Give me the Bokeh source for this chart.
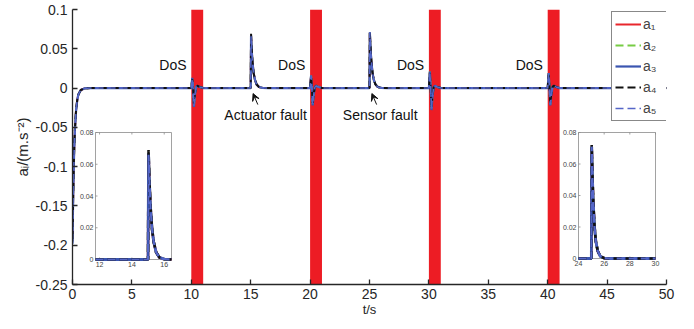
import numpy as np
from bokeh.plotting import figure
from bokeh.models import (Legend, LegendItem, FixedTicker, Arrow, VeeHead, Label,
                          Range1d, BoxAnnotation)
from bokeh.core.properties import value
from bokeh.embed import file_html
from bokeh.resources import INLINE

FONT = "Liberation Sans"

# ---------------- data ----------------
t_main = [
    0.0, 0.05, 0.1, 0.15, 0.2, 0.3, 0.4, 0.5, 0.7, 1.0, 1.5,
    10.0, 10.08, 10.15, 10.22, 10.3, 10.4, 10.5, 10.7, 11.0,
    15.0, 15.03, 15.08, 15.15, 15.25, 15.35, 15.5, 15.7, 16.0, 16.5,
    20.0, 20.08, 20.15, 20.22, 20.3, 20.4, 20.5, 20.7, 21.0,
    25.0, 25.03, 25.08, 25.15, 25.25, 25.35, 25.5, 25.7, 26.0, 26.5,
    30.0, 30.08, 30.15, 30.22, 30.3, 30.4, 30.5, 30.7, 31.0,
    40.0, 40.08, 40.15, 40.22, 40.3, 40.4, 40.5, 40.7, 41.0,
    50.0]

a1 = [
    -0.195, -0.142, -0.103, -0.074, -0.053, -0.028, -0.015, -0.008, -0.0025, -0.0005, 0.0,
    0.0, 0.012, 0.0, -0.022, -0.009, 0.001, 0.003, 0.0015, 0.0,
    0.0, 0.066, 0.050, 0.033, 0.019, 0.011, 0.0045, 0.0013, 0.0002, 0.0,
    0.0, 0.015, 0.0, -0.020, -0.009, 0.001, 0.003, 0.0015, 0.0,
    0.0, 0.070, 0.053, 0.035, 0.020, 0.011, 0.0047, 0.0014, 0.0002, 0.0,
    0.0, 0.020, 0.0, -0.026, -0.011, 0.001, 0.003, 0.0015, 0.0,
    0.0, 0.018, 0.0, -0.020, -0.009, 0.001, 0.003, 0.0015, 0.0,
    0.0]
a2 = [
    -0.195, -0.143, -0.104, -0.075, -0.053, -0.029, -0.015, -0.008, -0.0025, -0.0005, 0.0,
    0.0, 0.012, 0.0, -0.023, -0.009, 0.001, 0.003, 0.0015, 0.0,
    0.0, 0.066, 0.050, 0.033, 0.019, 0.011, 0.0045, 0.0013, 0.0002, 0.0,
    0.0, 0.016, 0.0, -0.021, -0.009, 0.001, 0.003, 0.0015, 0.0,
    0.0, 0.070, 0.053, 0.035, 0.020, 0.011, 0.0047, 0.0014, 0.0002, 0.0,
    0.0, 0.021, 0.0, -0.027, -0.011, 0.001, 0.003, 0.0015, 0.0,
    0.0, 0.019, 0.0, -0.021, -0.009, 0.001, 0.003, 0.0015, 0.0,
    0.0]
a3 = [
    -0.198, -0.144, -0.104, -0.075, -0.054, -0.029, -0.015, -0.008, -0.0025, -0.0005, 0.0,
    0.0, 0.013, 0.0, -0.024, -0.009, 0.001, 0.003, 0.0015, 0.0,
    0.0, 0.067, 0.050, 0.033, 0.019, 0.011, 0.0045, 0.0013, 0.0002, 0.0,
    0.0, 0.016, 0.0, -0.022, -0.009, 0.001, 0.003, 0.0015, 0.0,
    0.0, 0.071, 0.053, 0.035, 0.020, 0.011, 0.0047, 0.0014, 0.0002, 0.0,
    0.0, 0.021, 0.0, -0.028, -0.011, 0.001, 0.003, 0.0015, 0.0,
    0.0, 0.019, 0.0, -0.022, -0.009, 0.001, 0.003, 0.0015, 0.0,
    0.0]
a4 = [
    -0.192, -0.141, -0.102, -0.073, -0.053, -0.028, -0.015, -0.008, -0.0025, -0.0005, 0.0,
    0.0, 0.011, 0.0, -0.020, -0.008, 0.001, 0.003, 0.0015, 0.0,
    0.0, 0.069, 0.051, 0.034, 0.019, 0.011, 0.0046, 0.0013, 0.0002, 0.0,
    0.0, 0.015, 0.0, -0.019, -0.008, 0.001, 0.003, 0.0015, 0.0,
    0.0, 0.072, 0.054, 0.036, 0.020, 0.011, 0.0048, 0.0014, 0.0002, 0.0,
    0.0, 0.019, 0.0, -0.025, -0.010, 0.001, 0.003, 0.0015, 0.0,
    0.0, 0.017, 0.0, -0.019, -0.008, 0.001, 0.003, 0.0015, 0.0,
    0.0]
a5 = [
    -0.196, -0.143, -0.104, -0.075, -0.054, -0.029, -0.015, -0.008, -0.0025, -0.0005, 0.0,
    0.0, 0.012, 0.0, -0.023, -0.009, 0.001, 0.003, 0.0015, 0.0,
    0.0, 0.066, 0.050, 0.033, 0.019, 0.011, 0.0045, 0.0013, 0.0002, 0.0,
    0.0, 0.016, 0.0, -0.021, -0.009, 0.001, 0.003, 0.0015, 0.0,
    0.0, 0.071, 0.053, 0.035, 0.020, 0.011, 0.0047, 0.0014, 0.0002, 0.0,
    0.0, 0.021, 0.0, -0.027, -0.011, 0.001, 0.003, 0.0015, 0.0,
    0.0, 0.019, 0.0, -0.021, -0.009, 0.001, 0.003, 0.0015, 0.0,
    0.0]

series_values = [a1, a2, a3, a4, a5]
series_names = ["a\u2081", "a\u2082", "a\u2083", "a\u2084", "a\u2085"]
series_colors = ["#E8262C", "#77CC44", "#3A55B0", "#111111", "#5566C8"]
series_dash = ["solid", "8 4", "solid", "8 4", "8 4"]
series_width = [2, 2, 2.2, 2, 1.6]

dos_start = [10, 20, 30, 40]
dos_end = [11, 21, 31, 41]
dos_label = "DoS"

fault_times = [15, 25]
fault_labels = ["Actuator fault", "Sensor fault"]
fault_label_x = [16.25, 25.9]

x_ticks = [0, 5, 10, 15, 20, 25, 30, 35, 40, 45, 50]
y_ticks = [-0.25, -0.2, -0.15, -0.1, -0.05, 0, 0.05, 0.1]
y_tick_labels = ["-0.25", "-0.2", "-0.15", "-0.1", "-0.05", "0", "0.05", "0.1"]

inset_x_ranges = [(11.75, 16.45), (24, 30)]
inset_y_range = (0, 0.08)
inset_x_ticks = [[12, 14, 16], [24, 26, 28, 30]]
inset_y_ticks = [0, 0.02, 0.04, 0.06, 0.08]
inset_y_labels = ["0", "0.02", "0.04", "0.06", "0.08"]

# ---------------- layout constants (pixels) ----------------
FW, FH = 594, 275
# inset frames: left, top, width, height (pixels from the main frame's top-left corner)
INSET_BOX = [(23, 123, 76, 127), (506, 123, 77, 126)]

# ---------------- main figure ----------------
p = figure(frame_width=FW, frame_height=FH, x_range=Range1d(0, 50), y_range=Range1d(-0.25, 0.1),
           output_backend="svg", toolbar_location=None,
           min_border_left=72, min_border_right=12, min_border_top=9, min_border_bottom=35)
p.outline_line_color = None
p.grid.visible = False
p.background_fill_color = "white"

for ax in (p.xaxis[0], p.yaxis[0]):
    ax.axis_line_color = "#262626"
    ax.axis_line_width = 1.3
    ax.major_tick_line_color = "#262626"
    ax.major_tick_line_width = 1.3
    ax.major_tick_in = 5
    ax.major_tick_out = 0
    ax.minor_tick_line_color = None
    ax.major_label_text_font = FONT
    ax.major_label_text_color = "#262626"
    ax.axis_label_text_font = FONT
    ax.axis_label_text_font_style = "normal"
    ax.axis_label_text_color = "#262626"

p.xaxis.ticker = FixedTicker(ticks=x_ticks)
p.xaxis.major_label_text_font_size = "14px"
p.xaxis.major_label_standoff = 4
p.xaxis.axis_label = "t/s"
p.xaxis.axis_label_text_font_size = "13px"
p.xaxis.axis_label_standoff = 0

p.yaxis.ticker = FixedTicker(ticks=y_ticks)
p.yaxis.major_label_overrides = {v: s for v, s in zip(y_ticks, y_tick_labels)}
p.yaxis.major_label_text_font_size = "14px"
p.yaxis.major_label_standoff = 5
p.yaxis.axis_label = "a\u1d62/(m.s\u207b\u00b2)"
p.yaxis.axis_label_text_font_size = "15px"
p.yaxis.axis_label_standoff = 2

for s, e in zip(dos_start, dos_end):
    p.add_layout(BoxAnnotation(left=s, right=e, fill_color="#ED1C24", fill_alpha=1,
                               line_color=None, level="underlay"))

renderers = []
for vals, col, dash, w in zip(series_values, series_colors, series_dash, series_width):
    r = p.line(t_main, vals, line_color=col, line_width=w, line_dash=dash)
    renderers.append(r)

for s in dos_start:
    p.add_layout(Label(x=s - 0.4, y=0.029, text=dos_label, text_align="right",
                       text_baseline="middle", text_font=FONT, text_font_size="14px",
                       text_color="#111111"))

for ft, lab, lx in zip(fault_times, fault_labels, fault_label_x):
    p.add_layout(Label(x=lx, y=-0.034, text=lab, text_align="center",
                       text_baseline="middle", text_font=FONT, text_font_size="14px",
                       text_color="#111111"))
    p.add_layout(Arrow(x_start=ft + 0.6, y_start=-0.021, x_end=ft + 0.2, y_end=-0.007,
                       line_color="#111111", line_width=1,
                       end=VeeHead(size=7, fill_color="#111111", line_color="#111111")))


# ---------------- insets (drawn through extra ranges) ----------------
def clip_series(t, v, x0, x1):
    t = np.asarray(t, dtype=float)
    v = np.asarray(v, dtype=float)
    m = (t > x0) & (t < x1)
    tt = np.concatenate([[x0], t[m], [x1]])
    vv = np.concatenate([[np.interp(x0, t, v)], v[m], [np.interp(x1, t, v)]])
    return tt, vv


y0, y1 = inset_y_range
for k, ((x0, x1), (L, T, W, H), xt) in enumerate(zip(inset_x_ranges, INSET_BOX, inset_x_ticks)):
    sx = (x1 - x0) / W
    sy = (y1 - y0) / H
    xn, yn = f"ix{k}", f"iy{k}"
    p.extra_x_ranges[xn] = Range1d(x0 - L * sx, x1 + (FW - L - W) * sx)
    p.extra_y_ranges[yn] = Range1d(y0 - (FH - T - H) * sy, y1 + T * sy)
    kw = dict(x_range_name=xn, y_range_name=yn)

    p.quad(left=[x0], right=[x1], bottom=[y0], top=[y1], fill_color="white",
           line_color="#8a8a8a", line_width=0.8, **kw)
    # tick marks (inward)
    p.segment(x0=xt, y0=[y0] * len(xt), x1=xt, y1=[y0 + 2 * sy] * len(xt),
              line_color="#8a8a8a", line_width=0.8, **kw)
    p.segment(x0=xt, y0=[y1] * len(xt), x1=xt, y1=[y1 - 2 * sy] * len(xt),
              line_color="#8a8a8a", line_width=0.8, **kw)
    p.segment(x0=[x0] * len(inset_y_ticks), y0=inset_y_ticks,
              x1=[x0 + 2 * sx] * len(inset_y_ticks), y1=inset_y_ticks,
              line_color="#8a8a8a", line_width=0.8, **kw)
    # tick labels
    p.text(x=xt, y=[y0] * len(xt), text=[str(v) for v in xt], text_align="center",
           text_baseline="top", y_offset=2, text_font=value(FONT), text_font_size="7px",
           text_color="#444444", **kw)
    p.text(x=[x0] * len(inset_y_ticks), y=inset_y_ticks, text=inset_y_labels,
           text_align="right", text_baseline="middle", x_offset=-2, text_font=value(FONT),
           text_font_size="7px", text_color="#444444", **kw)
    # series
    for vals, col, dash, w in zip(series_values, series_colors, series_dash, series_width):
        tt, vv = clip_series(t_main, vals, x0, x1)
        p.line(tt, vv, line_color=col, line_width=w + 0.6, line_dash=dash, **kw)

legend = Legend(items=[LegendItem(label=n, renderers=[r]) for n, r in zip(series_names, renderers)],
                location=(539, 163))
legend.label_text_font = FONT
legend.label_text_font_size = "14px"
legend.glyph_width = 26
legend.glyph_height = 18
legend.label_height = 18
legend.label_standoff = 2
legend.spacing = 3
legend.padding = 3
legend.margin = 0
legend.border_line_color = "#111111"
legend.border_line_width = 1.5
legend.background_fill_color = "white"
legend.background_fill_alpha = 1
p.add_layout(legend)

with open("out.html", "w") as f:
    f.write(file_html(p, INLINE))
